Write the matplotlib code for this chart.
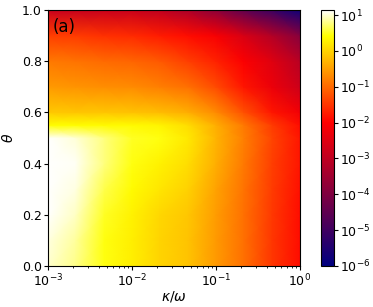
import numpy as np
import matplotlib
matplotlib.use("Agg")
import matplotlib.pyplot as plt
from matplotlib.colors import LogNorm, LinearSegmentedColormap

# grid nodes: log10(kappa/omega) and theta
log_kappa = [-3.0, -2.67, -2.33, -2.0, -1.67, -1.33, -1.0, -0.67, -0.33, 0.0]
theta = [0.0, 0.1, 0.2, 0.3, 0.4, 0.5, 0.55, 0.6, 0.7, 0.8, 0.9, 1.0]

# log10 of the plotted quantity, one row per theta value
log_vals = [
    [1.00, 0.80, 0.45, 0.25, 0.00, -0.15, -0.55, -0.95, -1.50, -1.90],
    [1.05, 0.85, 0.47, 0.27, 0.02, -0.15, -0.55, -0.95, -1.50, -1.90],
    [1.15, 0.95, 0.50, 0.30, 0.05, -0.13, -0.53, -0.93, -1.48, -1.88],
    [1.15, 1.05, 0.62, 0.38, 0.18, -0.02, -0.45, -0.90, -1.45, -1.85],
    [1.15, 1.10, 0.75, 0.45, 0.30, 0.10, -0.35, -0.85, -1.40, -1.80],
    [1.12, 1.02, 0.75, 0.50, 0.45, 0.20, -0.30, -0.80, -1.35, -1.80],
    [0.40, 0.40, 0.38, 0.36, 0.32, 0.10, -0.35, -0.85, -1.45, -1.90],
    [-0.10, -0.12, -0.14, -0.15, -0.20, -0.35, -0.70, -1.25, -1.80, -2.20],
    [-0.55, -0.60, -0.65, -0.70, -0.80, -0.95, -1.30, -1.80, -2.30, -2.80],
    [-0.85, -0.90, -1.00, -1.05, -1.15, -1.40, -1.70, -2.05, -2.50, -3.10],
    [-1.40, -1.45, -1.55, -1.60, -1.75, -1.90, -2.10, -2.60, -3.20, -3.90],
    [-2.90, -2.90, -2.85, -2.85, -3.00, -3.30, -3.80, -4.50, -5.10, -5.80],
]

vmin, vmax = 1e-6, 10 ** 1.14

cmap = LinearSegmentedColormap.from_list(
    "navy_red_yellow", [(0.0, "navy"), (0.56, "red"), (0.9, "yellow"), (1.0, "white")])

X, Y = np.meshgrid(10 ** np.array(log_kappa), np.array(theta))
Z = 10 ** np.array(log_vals)

fig = plt.figure(figsize=(3.73, 3.07), dpi=100)
ax = fig.add_axes([48 / 373, 41 / 307, 252 / 373, 256 / 307])
cax = fig.add_axes([321 / 373, 41 / 307, 13 / 373, 256 / 307])

mesh = ax.pcolormesh(X, Y, Z, shading="gouraud", cmap=cmap,
                     norm=LogNorm(vmin=vmin, vmax=vmax), rasterized=True)
ax.set_xscale("log")
ax.set_xlim(1e-3, 1e0)
ax.set_ylim(0, 1)
ax.set_xlabel(r"$\kappa/\omega$", fontsize=10, labelpad=0)
ax.set_ylabel(r"$\theta$", fontsize=10, labelpad=4)
ax.tick_params(labelsize=9, pad=1.5)
ax.tick_params(which="both", length=3)
ax.tick_params(which="minor", length=1.5)
ax.text(0.02, 0.97, "(a)", transform=ax.transAxes, fontsize=12, va="top", ha="left")

cb = fig.colorbar(mesh, cax=cax)
cb.ax.tick_params(labelsize=9, pad=1.5, length=3)
cb.ax.tick_params(which="minor", length=0)

fig.savefig("out.png", dpi=100)
